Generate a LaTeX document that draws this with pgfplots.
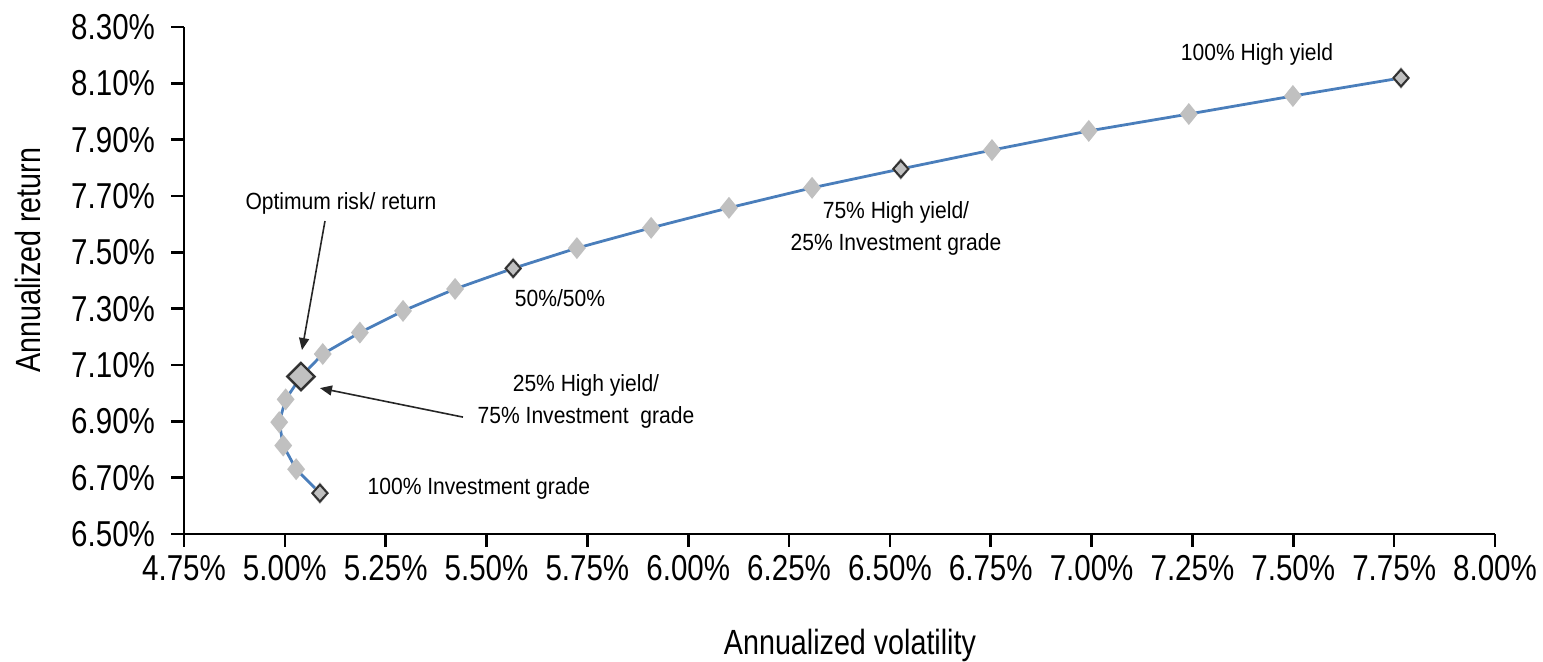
\documentclass[border=0pt]{standalone}
\usepackage{fontspec}
\setmainfont[FakeStretch=0.82]{Liberation Sans}
\newfontfamily\notefont[FakeStretch=0.9]{Liberation Sans}
\usepackage{pgfplots}
\pgfplotsset{compat=1.18}
\usetikzlibrary{arrows.meta}

\definecolor{frontier}{RGB}{74,126,187}
\definecolor{markgray}{RGB}{192,192,192}
\definecolor{markedge}{RGB}{50,50,50}

% efficient frontier: 0% to 100% high yield in 5% steps (volatility, return)
\pgfplotstableread{
vol    ret
5.087  6.645
5.028  6.730
4.996  6.814
4.986  6.897
5.002  6.978
5.040  7.059
5.094  7.139
5.186  7.215
5.293  7.292
5.422  7.370
5.566  7.443
5.724  7.515
5.908  7.587
6.101  7.658
6.307  7.729
6.527  7.796
6.753  7.863
6.993  7.931
7.241  7.991
7.499  8.055
7.767  8.119
}\frontiertable

% 0/50/75/100% high yield mixes
\pgfplotstableread{
vol    ret
5.087  6.645
5.566  7.443
6.527  7.796
7.767  8.119
}\keymixes

\begin{document}
\begin{tikzpicture}
\path[use as bounding box] (-92pt,-64pt) rectangle (679.5pt,267pt);
\begin{axis}[
  at={(0,0)}, anchor=south west,
  scale only axis, width=655.5pt, height=253.5pt,
  xmin=4.75, xmax=8, ymin=6.5, ymax=8.3,
  axis lines*=left,
  axis line style={line width=1.3pt, -},
  major tick length=0pt,
  xtick={4.75,5,5.25,5.5,5.75,6,6.25,6.5,6.75,7,7.25,7.5,7.75,8},
  xticklabels={4.75\%,5.00\%,5.25\%,5.50\%,5.75\%,6.00\%,6.25\%,6.50\%,6.75\%,7.00\%,7.25\%,7.50\%,7.75\%,8.00\%},
  ytick={6.5,6.7,6.9,7.1,7.3,7.5,7.7,7.9,8.1,8.3},
  yticklabels={6.50\%,6.70\%,6.90\%,7.10\%,7.30\%,7.50\%,7.70\%,7.90\%,8.10\%,8.30\%},
  ticklabel style={font=\fontsize{18}{18}\selectfont},
  xticklabel style={yshift=-7pt},
  yticklabel style={xshift=-11pt},
  clip=false,
]
\addplot[frontier, line width=1.4pt, mark=diamond*, mark size=4.4pt,
  mark options={fill=markgray, draw=markgray, solid, xscale=1.08}]
  table[x=vol, y=ret] {\frontiertable};
\addplot[only marks, mark=diamond*, mark size=4.2pt,
  mark options={fill=markgray, draw=markedge, line width=1pt, xscale=1.2}]
  table[x=vol, y=ret] {\keymixes};
% optimum risk/return: 25% high yield
\addplot[only marks, mark=square*, mark size=4.8pt,
  mark options={fill=markgray, draw=markedge, line width=1.2pt, rotate=45}]
  coordinates {(5.040,7.059)};

\draw[black!85, line width=0.8pt, -{Triangle[length=6pt,width=5pt]}]
  (axis cs:5.0995,7.611) -- (axis cs:5.0425,7.153);
\draw[black!85, line width=0.8pt, -{Triangle[length=6pt,width=5pt]}]
  (axis cs:5.4416,6.915) -- (axis cs:5.087,7.018);

\begin{scope}[every node/.style={font=\notefont\fontsize{11.7}{16}\selectfont, align=center, inner sep=0pt}]
\node at (axis cs:5.139,7.675) {Optimum risk/ return};
\node at (axis cs:5.7465,6.972) {25\% High yield/\\75\% Investment\ \ grade};
\node at (axis cs:5.481,6.663) {100\% Investment grade};
\node at (axis cs:5.682,7.338) {50\%/50\%};
\node at (axis cs:6.515,7.586) {75\% High yield/\\25\% Investment grade};
\node at (axis cs:7.410,8.204) {100\% High yield};
\end{scope}

\node[font=\fontsize{17.5}{18}\selectfont] at (axis description cs:0.508,-0.219) {Annualized volatility};
\node[font=\fontsize{17.5}{18}\selectfont, rotate=90] at (axis description cs:-0.119,0.54) {Annualized return};
\end{axis}
% outward tick marks: 13 x intervals over 655.5pt, 9 y intervals over 253.5pt
\foreach \i in {0,...,13}
  \draw[line width=1.3pt, black] (\i*50.4231pt,0pt) -- (\i*50.4231pt,-6.5pt);
\foreach \j in {0,...,9}
  \draw[line width=1.3pt, black] (0pt,\j*28.1667pt) -- (-6.5pt,\j*28.1667pt);
\end{tikzpicture}
\end{document}
